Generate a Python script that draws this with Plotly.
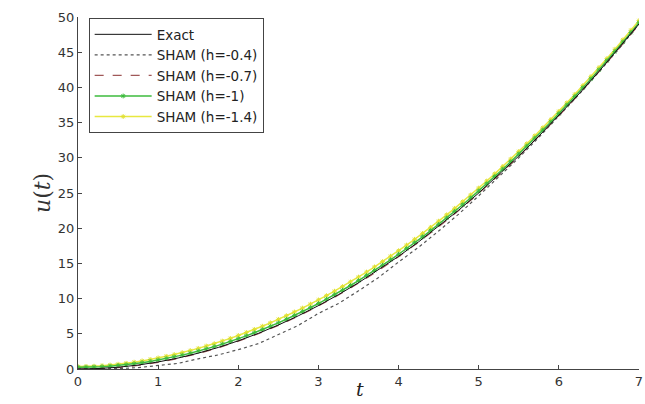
import plotly.graph_objects as go

# coarse grid (step 0.25)
t_coarse = [0, 0.25, 0.5, 0.75, 1, 1.25, 1.5, 1.75, 2, 2.25, 2.5, 2.75, 3, 3.25, 3.5,
            3.75, 4, 4.25, 4.5, 4.75, 5, 5.25, 5.5, 5.75, 6, 6.25, 6.5, 6.75, 7]
u_exact = [0, 0.0625, 0.25, 0.5625, 1, 1.5625, 2.25, 3.0625, 4, 5.0625, 6.25, 7.5625, 9,
           10.5625, 12.25, 14.0625, 16, 18.0625, 20.25, 22.5625, 25, 27.5625, 30.25,
           33.0625, 36, 39.0625, 42.25, 45.5625, 49]
u_h04 = [0, 0.0, 0.05, 0.2, 0.45, 0.8, 1.45, 2.0, 2.75, 3.6, 4.9, 6.2, 7.9, 9.3, 11.1,
         13.0, 15.2, 17.3, 19.6, 22.0, 24.6, 27.3, 30.0, 32.9, 35.9, 39.0, 42.2, 45.5, 49.0]
u_h07 = [0, 0.04, 0.2, 0.5, 0.93, 1.5, 2.2, 3.0, 3.95, 5.0, 6.2, 7.5, 8.95, 10.5, 12.2,
         14.0, 15.95, 18.0, 20.2, 22.5, 24.95, 27.5, 30.2, 33.0, 35.95, 39.0, 42.2, 45.5, 48.95]

# fine grid (step 0.1)
t_fine = [0, 0.1, 0.2, 0.3, 0.4, 0.5, 0.6, 0.7, 0.8, 0.9, 1.0, 1.1, 1.2, 1.3, 1.4, 1.5,
          1.6, 1.7, 1.8, 1.9, 2.0, 2.1, 2.2, 2.3, 2.4, 2.5, 2.6, 2.7, 2.8, 2.9, 3.0, 3.1,
          3.2, 3.3, 3.4, 3.5, 3.6, 3.7, 3.8, 3.9, 4.0, 4.1, 4.2, 4.3, 4.4, 4.5, 4.6, 4.7,
          4.8, 4.9, 5.0, 5.1, 5.2, 5.3, 5.4, 5.5, 5.6, 5.7, 5.8, 5.9, 6.0, 6.1, 6.2, 6.3,
          6.4, 6.5, 6.6, 6.7, 6.8, 6.9, 7.0]
u_h1 = [0.25, 0.25, 0.28, 0.33, 0.4, 0.5, 0.6, 0.74, 0.9, 1.07, 1.27, 1.48, 1.72, 1.97,
        2.24, 2.53, 2.85, 3.18, 3.53, 3.9, 4.3, 4.71, 5.14, 5.59, 6.06, 6.55, 7.06, 7.59,
        8.14, 8.71, 9.3, 9.91, 10.54, 11.19, 11.86, 12.55, 13.26, 13.99, 14.74, 15.51,
        16.3, 17.1, 17.93, 18.78, 19.65, 20.54, 21.45, 22.38, 23.33, 24.3, 25.29, 26.3,
        27.33, 28.38, 29.45, 30.54, 31.65, 32.78, 33.93, 35.09, 36.28, 37.48, 38.7,
        39.94, 41.2, 42.48, 43.78, 45.1, 46.44, 47.8, 49.18]
u_h14 = [0.35, 0.36, 0.4, 0.47, 0.56, 0.68, 0.81, 0.97, 1.15, 1.35, 1.57, 1.8, 2.06, 2.33,
         2.62, 2.93, 3.26, 3.6, 3.97, 4.35, 4.76, 5.18, 5.62, 6.08, 6.56, 7.05, 7.57, 8.1,
         8.65, 9.22, 9.81, 10.42, 11.05, 11.7, 12.37, 13.06, 13.77, 14.5, 15.25, 16.02,
         16.8, 17.6, 18.42, 19.26, 20.12, 21.0, 21.9, 22.82, 23.76, 24.72, 25.7, 26.7,
         27.72, 28.76, 29.82, 30.9, 32.0, 33.12, 34.26, 35.42, 36.6, 37.8, 39.02, 40.26,
         41.52, 42.8, 44.1, 45.42, 46.76, 48.12, 49.5]

x_ticks = [0, 1, 2, 3, 4, 5, 6, 7]
y_ticks = [0, 5, 10, 15, 20, 25, 30, 35, 40, 45, 50]

fig = go.Figure()
fig.add_trace(go.Scatter(x=t_fine, y=u_h14, name="SHAM (h=-1.4)", mode="lines+markers",
                         line=dict(color="#e8e840", width=1.5),
                         marker=dict(symbol="asterisk-open", size=4, color="#e0e030",
                                     line=dict(width=1, color="#e0e030")),
                         legendrank=5))
fig.add_trace(go.Scatter(x=t_fine, y=u_h1, name="SHAM (h=-1)", mode="lines+markers",
                         line=dict(color="#3dbb3d", width=1.5),
                         marker=dict(symbol="asterisk-open", size=4, color="#3dbb3d",
                                     line=dict(width=1, color="#3dbb3d")),
                         legendrank=4))
fig.add_trace(go.Scatter(x=t_coarse, y=u_h07, name="SHAM (h=-0.7)", mode="lines",
                         line=dict(color="#a05858", width=1.2, dash="dash"),
                         legendrank=3))
fig.add_trace(go.Scatter(x=t_coarse, y=u_h04, name="SHAM (h=-0.4)", mode="lines",
                         line=dict(color="#555555", width=1.2, dash="dot"),
                         legendrank=2))
fig.add_trace(go.Scatter(x=t_coarse, y=u_exact, name="Exact", mode="lines",
                         line=dict(color="#111111", width=1),
                         legendrank=1))

axis_common = dict(showgrid=False, zeroline=False, showline=True, linecolor="#444444",
                   linewidth=1, ticks="inside", ticklen=4, tickcolor="#444444",
                   automargin=False, ticklabeloverflow="allow",
                   tickfont=dict(family="DejaVu Sans, Liberation Sans", size=13, color="#333333"))

fig.update_layout(
    width=645, height=404,
    margin=dict(l=78, r=6, t=17, b=35),
    paper_bgcolor="white", plot_bgcolor="white",
    showlegend=True,
    legend=dict(x=0.019, y=0.997, xanchor="left", yanchor="top",
                bgcolor="white", bordercolor="#444444", borderwidth=1,
                font=dict(family="DejaVu Sans, Liberation Sans", size=13.5, color="#222222"),
                itemwidth=57, tracegroupgap=0),
    xaxis=dict(range=[0, 7], tickvals=x_ticks, **axis_common),
    yaxis=dict(range=[0, 50], tickvals=y_ticks, **axis_common),
)
fig.add_annotation(text="<i>u</i>(<i>t</i>)", xref="paper", yref="paper",
                   x=-0.09, y=0.5, showarrow=False, textangle=-90,
                   font=dict(family="DejaVu Serif, Liberation Serif", size=22, color="#333333"))
fig.add_annotation(text="<i>t</i>", xref="paper", yref="paper",
                   x=0.503, y=-0.094, yanchor="bottom", showarrow=False,
                   font=dict(family="DejaVu Serif, Liberation Serif", size=19, color="#222222"))

fig.write_html("out.html", config={"displayModeBar": False},
               post_script="document.body.style.margin='0';document.body.style.overflow='hidden';")
